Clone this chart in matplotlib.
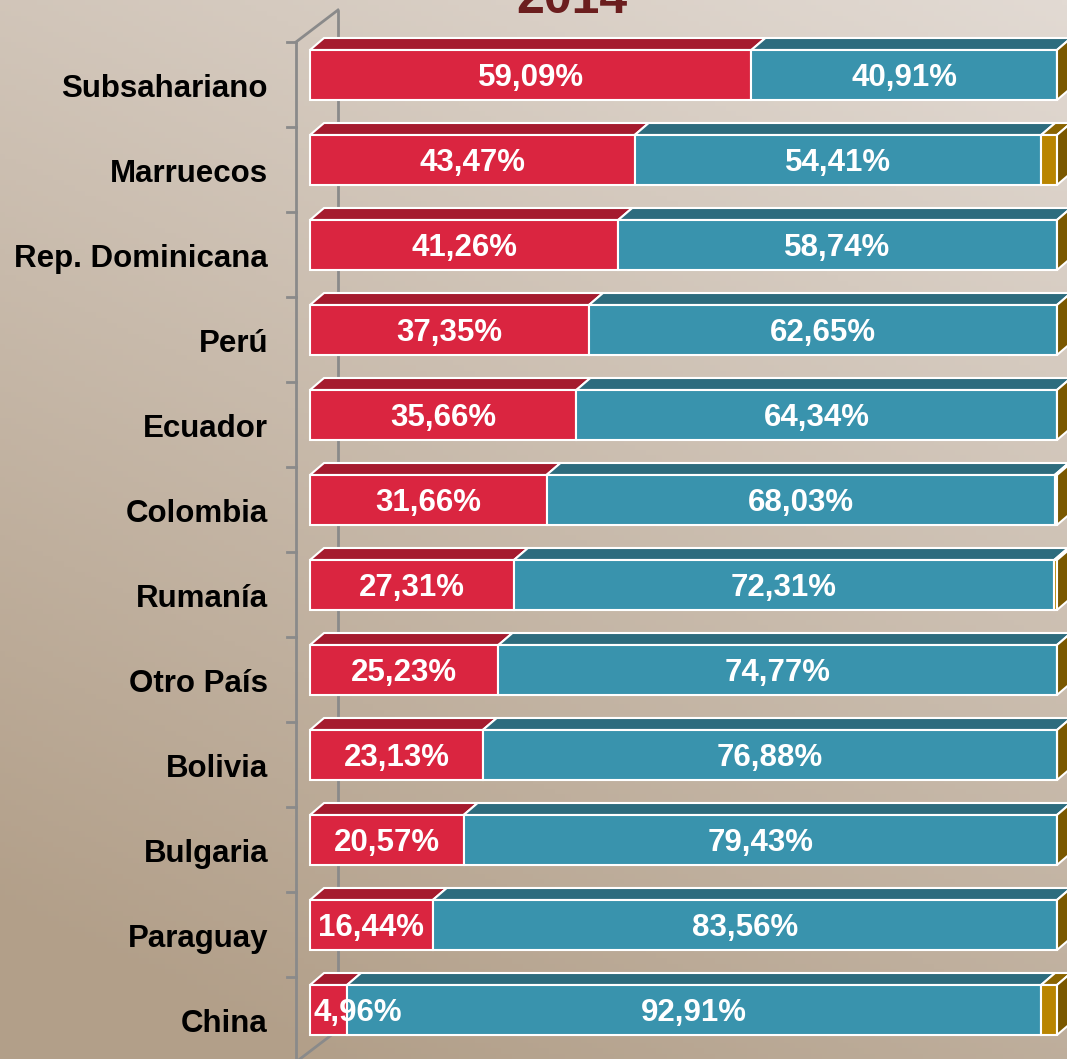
import matplotlib.pyplot as plt
import numpy as np
from matplotlib.patches import Polygon

plt.rcParams['font.family'] = ['Liberation Sans', 'DejaVu Sans']

# data
paises = ['Subsahariano', 'Marruecos', 'Rep. Dominicana', 'Perú', 'Ecuador', 'Colombia',
          'Rumanía', 'Otro País', 'Bolivia', 'Bulgaria', 'Paraguay', 'China']
rojo = [59.09, 43.47, 41.26, 37.35, 35.66, 31.66, 27.31, 25.23, 23.13, 20.57, 16.44, 4.96]
azul = [40.91, 54.41, 58.74, 62.65, 64.34, 68.03, 72.31, 74.77, 76.88, 79.43, 83.56, 92.91]
otro = [0.0, 2.12, 0.0, 0.0, 0.0, 0.31, 0.38, 0.0, 0.0, 0.0, 0.0, 2.13]

W, H = 1067, 1059
fig = plt.figure(figsize=(W / 100, H / 100), dpi=100)

# background gradient (lighter top-right, darker bottom-left)
bg = fig.add_axes([0, 0, 1, 1])
yy, xx = np.mgrid[0:1:200j, 0:1:200j]
t = np.clip(0.75 * yy + 0.35 * (1 - xx), 0, 1)
c_top = np.array([226, 218, 211]) / 255
c_bot = np.array([178, 159, 137]) / 255
img = c_top[None, None, :] * (1 - t[..., None]) + c_bot[None, None, :] * t[..., None]
bg.imshow(img, aspect='auto', extent=[0, 1, 1, 0])
bg.axis('off')

ax = fig.add_axes([0, 0, 1, 1])
ax.patch.set_alpha(0)
ax.axis('off')

# pixel layout -> data units
sx = 747 / 100.0          # px per percent
sy = 85.0                 # px per category
x0px, y0px = 310, 75
ax.set_xlim(-x0px / sx, 100 + (W - 1057) / sx)
ax.set_ylim((H - y0px) / sy, -y0px / sy)

def px(x):
    return (x - x0px) / sx

def py(y):
    return (y - y0px) / sy

h = 50 / sy
dx = 14 / sx
dy = 12 / sy

# wall lines
wall = '#8a8a8a'
n = len(paises)
ax.plot([px(296), px(296)], [py(42), py(1065)], color=wall, lw=2, solid_capstyle='butt')
ax.plot([px(338), px(338)], [py(10), py(1030)], color=wall, lw=2, solid_capstyle='butt')
ax.plot([px(296), px(338)], [py(42), py(10)], color=wall, lw=2)
ax.plot([px(296), px(338)], [py(1062), py(1030)], color=wall, lw=2)
for k in range(n + 1):
    ax.plot([px(287), px(296)], [py(42 + 85 * k)] * 2, color=wall, lw=2)

y = np.arange(n)
series = [(rojo, '#da2540', '#a51b2e'), (azul, '#3993ad', '#2d6c7e'), (otro, '#b98500', '#8a6400')]
left = np.zeros(n)
for vals, front, top in series:
    vals = np.array(vals)
    for i in range(n):
        a, b = left[i], left[i] + vals[i]
        if vals[i] > 0:
            ytop = y[i] - h / 2
            ax.add_patch(Polygon([(a, ytop), (b, ytop), (b + dx, ytop - dy), (a + dx, ytop - dy)],
                                 closed=True, facecolor=top, edgecolor='white', lw=1.5, zorder=2))
    ax.barh(y, vals, left=left, height=h, color=front, edgecolor='white', lw=1.5, zorder=3)
    left = left + vals

# right side faces
for i in range(n):
    ytop = y[i] - h / 2
    r = left[i]
    ax.add_patch(Polygon([(r, ytop), (r + dx, ytop - dy), (r + dx, ytop - dy + h), (r, ytop + h)],
                         closed=True, facecolor='#7a5800', edgecolor='white', lw=1.5, zorder=3))

fmt = lambda v: ('%.2f%%' % v).replace('.', ',')
fs = 22.5
off = 3.5 / sy
for i in range(n):
    if rojo[i] * sx > 100:
        ax.text(rojo[i] / 2, y[i] + off, fmt(rojo[i]), ha='center', va='center', color='white',
                fontsize=fs, fontweight='bold', zorder=5)
    else:
        ax.text(3 / sx, y[i] + off, fmt(rojo[i]), ha='left', va='center', color='white',
                fontsize=fs, fontweight='bold', zorder=5)
    ax.text(rojo[i] + azul[i] / 2, y[i] + off, fmt(azul[i]), ha='center', va='center', color='white',
            fontsize=fs, fontweight='bold', zorder=5)
    ax.text(px(268), y[i] + 14 / sy, paises[i], ha='right', va='center', color='black',
            fontsize=fs, fontweight='bold')

ax.text(px(572), py(13), '2014', ha='center', va='baseline', color='#6b1e1e',
        fontsize=36, fontweight='bold')

fig.savefig('out.png', dpi=100)
